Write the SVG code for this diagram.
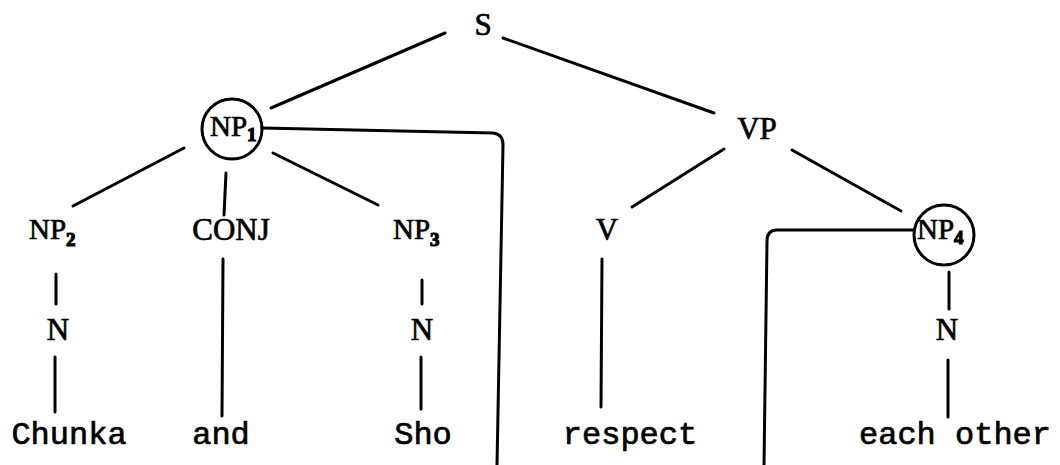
<svg xmlns="http://www.w3.org/2000/svg" width="1060" height="465" viewBox="0 0 1060 465">
<style>
  .t { fill: #000; stroke: #000; stroke-width: 0.7; }
  .lab { font-family: "Liberation Serif", "Times New Roman", serif; font-size: 31px; }
  .np { font-family: "Liberation Serif", "Times New Roman", serif; font-size: 29px; }
  .word { font-family: "Liberation Mono", "Courier New", monospace; font-size: 32px; }
  .sub { font-family: "Liberation Serif", "Times New Roman", serif; font-size: 19px; font-weight: bold; stroke-width: 1.2; }
  .ln { stroke: #000; stroke-width: 3; fill: none; stroke-linecap: round; stroke-linejoin: round; }
  .circ { stroke: #000; stroke-width: 3; fill: none; }
</style>
<rect width="1060" height="465" fill="#fff"/>
<g id="connectors">
  <line class="ln" x1="445" y1="33" x2="271" y2="108"/>
  <line class="ln" x1="503" y1="38" x2="714" y2="113"/>
  <line class="ln" x1="184" y1="148" x2="73" y2="206"/>
  <line class="ln" x1="226" y1="173" x2="224" y2="215"/>
  <line class="ln" x1="273" y1="153" x2="378" y2="205"/>
  <line class="ln" x1="724" y1="149" x2="632" y2="207"/>
  <line class="ln" x1="792" y1="150" x2="901" y2="211"/>
  <line class="ln" x1="56" y1="274" x2="56" y2="304"/>
  <line class="ln" x1="55" y1="357" x2="55" y2="412"/>
  <line class="ln" x1="223" y1="259" x2="222" y2="416"/>
  <line class="ln" x1="422" y1="280" x2="422" y2="304"/>
  <line class="ln" x1="421" y1="357" x2="421" y2="409"/>
  <line class="ln" x1="602" y1="259" x2="601" y2="407"/>
  <line class="ln" x1="949" y1="272" x2="949" y2="309"/>
  <line class="ln" x1="948" y1="360" x2="948" y2="417"/>
  <path class="ln" d="M262,128 L493,133 Q503,134 503,145 L497,465"/>
  <path class="ln" d="M914,230 L777,230 Q767,230 767,241 L764,465"/>
</g>
<g id="node-S"><text class="t lab" x="483" y="35" text-anchor="middle" font-size="27">S</text></g>
<g id="node-NP1">
  <circle class="circ" cx="232" cy="129" r="30"/>
  <text class="t np" x="210" y="136">NP<tspan class="sub" dy="5">1</tspan></text>
</g>
<g id="node-VP"><text class="t lab" x="757" y="139" text-anchor="middle">VP</text></g>
<g id="node-NP2"><text class="t np" x="29" y="239">NP<tspan class="sub" dy="7">2</tspan></text></g>
<g id="node-CONJ"><text class="t lab" x="231" y="240" text-anchor="middle">CONJ</text></g>
<g id="node-NP3"><text class="t np" x="393" y="239">NP<tspan class="sub" dy="7">3</tspan></text></g>
<g id="node-V"><text class="t lab" x="607" y="240" text-anchor="middle">V</text></g>
<g id="node-NP4">
  <circle class="circ" cx="944" cy="235" r="30"/>
  <text class="t np" x="917" y="239">NP<tspan class="sub" dy="5">4</tspan></text>
</g>
<g id="node-N1"><text class="t lab" x="58" y="340" text-anchor="middle">N</text></g>
<g id="node-N2"><text class="t lab" x="422" y="340" text-anchor="middle">N</text></g>
<g id="node-N3"><text class="t lab" x="947" y="340" text-anchor="middle">N</text></g>
<g id="word-Chunka"><text class="t word" x="69" y="444" text-anchor="middle">Chunka</text></g>
<g id="word-and"><text class="t word" x="221" y="444" text-anchor="middle">and</text></g>
<g id="word-Sho"><text class="t word" x="423" y="444" text-anchor="middle">Sho</text></g>
<g id="word-respect"><text class="t word" x="630" y="444" text-anchor="middle">respect</text></g>
<g id="word-eachother"><text class="t word" x="955" y="444" text-anchor="middle">each other</text></g>
</svg>
